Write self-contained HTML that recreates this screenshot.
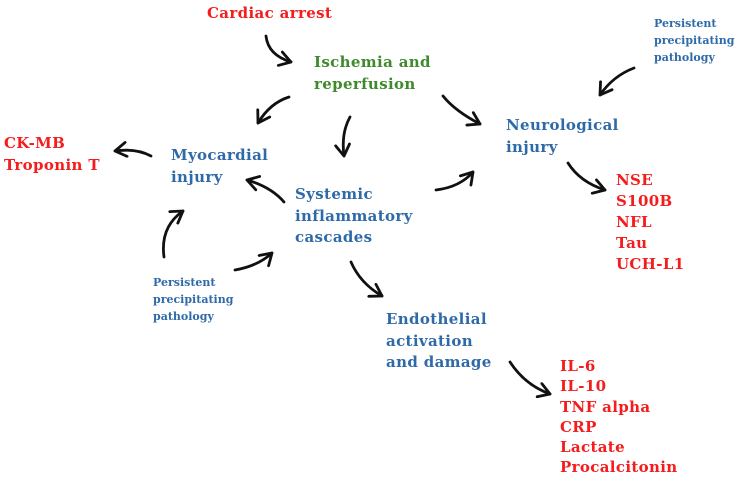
<!DOCTYPE html>
<html><head><meta charset="utf-8"><style>
body{margin:0;width:750px;height:477px;background:#fff;overflow:hidden;position:relative;font-family:"DejaVu Serif","Liberation Serif",serif;font-weight:bold}
.t{position:absolute;font-size:15px;line-height:21.5px;white-space:nowrap;letter-spacing:0.35px}
.r{color:#f41c1c}.g{color:#3e8a2c}.b{color:#2f6aa8}
.s{font-size:11px;line-height:17px;letter-spacing:0}
svg{position:absolute;left:0;top:0}
</style></head><body>
<div class="t r" style="left:207px;top:3px">Cardiac arrest</div>
<div class="t g" style="left:314px;top:52px">Ischemia and<br>reperfusion</div>
<div class="t b" style="left:171px;top:145px">Myocardial<br>injury</div>
<div class="t b" style="left:295px;top:184px">Systemic<br>inflammatory<br>cascades</div>
<div class="t b" style="left:506px;top:115px">Neurological<br>injury</div>
<div class="t b s" style="left:654px;top:15px">Persistent<br>precipitating<br>pathology</div>
<div class="t b s" style="left:153px;top:274px">Persistent<br>precipitating<br>pathology</div>
<div class="t r" style="left:4px;top:133px">CK-MB<br>Troponin T</div>
<div class="t r" style="left:616px;top:170px;line-height:21px">NSE<br>S100B<br>NFL<br>Tau<br>UCH-L1</div>
<div class="t b" style="left:386px;top:309px">Endothelial<br>activation<br>and damage</div>
<div class="t r" style="left:560px;top:356px;line-height:20.3px">IL-6<br>IL-10<br>TNF alpha<br>CRP<br>Lactate<br>Procalcitonin</div>
<svg width="750" height="477" viewBox="0 0 750 477">
<defs><marker id="a" markerWidth="6" markerHeight="6" refX="4.5" refY="3" orient="auto" markerUnits="strokeWidth"><path d="M0.5,0.5 L4.5,3 L0.5,5.5" fill="none" stroke="#111" stroke-width="1" stroke-linecap="round" stroke-linejoin="round"/></marker></defs>
<g fill="none" stroke="#111" stroke-width="2.8" stroke-linecap="round" marker-end="url(#a)">
<path d="M266,36 Q268,55 291,62"/>
<path d="M289,97 Q270,103 258,123"/>
<path d="M350,117 Q341,133 344,156"/>
<path d="M443,96 Q455,111 480,124"/>
<path d="M436,190 Q460,187 473,172"/>
<path d="M284,202 Q271,187 247,180"/>
<path d="M151,156 Q136,148 115,151"/>
<path d="M164,257 Q160,227 183,211"/>
<path d="M235,270 Q258,266 272,253"/>
<path d="M351,262 Q360,283 382,296"/>
<path d="M634,68 Q613,76 600,95"/>
<path d="M568,163 Q580,182 605,190"/>
<path d="M510,362 Q525,385 550,394"/>
</g></svg>
</body></html>
